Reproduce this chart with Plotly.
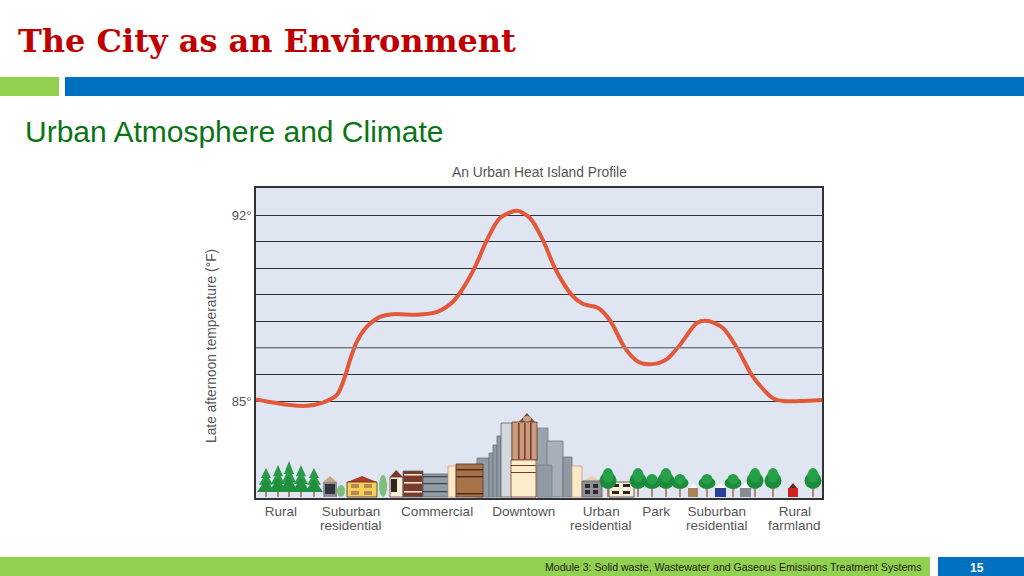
import plotly.graph_objects as go

W = 1024
H = 576

# temperature profile, distance is % of the way across the transect
distance = [0, 6.0, 9.0, 11.8, 14.3, 15.7, 16.6, 17.8, 19.6, 21.9, 24.2, 28.4, 32.0, 34.8,
            36.6, 38.7, 40.8, 43.1, 46.1, 48.4, 50.7, 52.8, 55.8, 57.8, 60.4, 62.5, 65.2,
            67.5, 70.0, 72.6, 74.9, 77.9, 79.9, 82.5, 85.2, 87.8, 91.3, 93.1, 96.1, 100]
temperature = [85.06, 84.85, 84.82, 84.94, 85.23, 85.91, 86.54, 87.23, 87.80, 88.17, 88.27,
               88.25, 88.36, 88.74, 89.25, 90.05, 91.06, 91.89, 92.16, 91.89, 91.06, 90.01,
               88.99, 88.65, 88.51, 88.05, 86.99, 86.48, 86.39, 86.58, 87.11, 87.94, 88.01,
               87.75, 86.92, 85.91, 85.11, 85.0, 85.0, 85.04]

# second lines go in as annotations, plotly's tick line spacing is too loose here
zones = ['Rural', 'Suburban', 'Commercial', 'Downtown', 'Urban', 'Park', 'Suburban', 'Rural']
zones_line2 = ['', 'residential', '', '', 'residential', '', 'residential', 'farmland']
zone_pos = [4.4, 16.8, 32.0, 47.3, 61.0, 70.7, 81.4, 95.2]

temp_ticks = [85, 86, 87, 88, 89, 90, 91, 92]
temp_labels = ['85°', '', '', '', '', '', '', '92°']

fig = go.Figure()

fig.add_trace(go.Scatter(
    x=distance,
    y=temperature,
    mode='lines',
    line=dict(color='#e4583a', width=4, shape='spline', smoothing=0.8),
    showlegend=False,
    hoverinfo='skip'
))

shapes = []


# all the slide furniture and the little skyline is placed in screen pixels
def rect(x0, y0, x1, y1, color, line=None):
    shapes.append(dict(type='rect', xref='paper', yref='paper',
                       x0=x0 / W, x1=x1 / W, y0=1 - y0 / H, y1=1 - y1 / H,
                       fillcolor=color, line=dict(color=line or color, width=0.8 if line else 0)))


def poly(points, color):
    path = 'M ' + ' L '.join('%.4f,%.4f' % (px / W, 1 - py / H) for px, py in points) + ' Z'
    shapes.append(dict(type='path', xref='paper', yref='paper', path=path,
                       fillcolor=color, line=dict(width=0)))


def circle(cx, cy, rx, ry, color):
    shapes.append(dict(type='circle', xref='paper', yref='paper',
                       x0=(cx - rx) / W, x1=(cx + rx) / W, y0=1 - (cy + ry) / H, y1=1 - (cy - ry) / H,
                       fillcolor=color, line=dict(width=0)))


GROUND = 497

# header and footer bars
rect(0, 77, 59, 96, '#92d050')
rect(65, 77, 1024, 96, '#0070c0')
rect(0, 557, 930, 576, '#92d050')
rect(938, 557, 1024, 576, '#0070c0')

# slightly lighter gridline at 87
shapes.append(dict(type='line', xref='paper', yref='y', x0=256 / W, x1=822 / W, y0=87, y1=87,
                   line=dict(color='#8a8f96', width=1.4)))

# pine trees
for cx, top in [(266, 468), (278, 465), (289, 461), (301, 465), (314, 468)]:
    rect(cx - 0.8, 488, cx + 0.8, GROUND, '#9a6a5a')
    h = 492 - top
    poly([(cx, top), (cx + 5, top + h * 0.42), (cx - 5, top + h * 0.42)], '#2a9a46')
    poly([(cx, top + h * 0.22), (cx + 7, top + h * 0.7), (cx - 7, top + h * 0.7)], '#2a9a46')
    poly([(cx, top + h * 0.45), (cx + 9, top + h), (cx - 9, top + h)], '#1f8f3e')

# suburban houses
poly([(323, 482), (330, 476), (337, 482)], '#c9a77e')
rect(323, 482, 337, GROUND, '#8a8f96')
rect(325, 484, 335, 494, '#33343a')
circle(341, 491, 4, 6, '#7cbf7c')
poly([(347, 482), (362, 476), (377, 482)], '#b23a2a')
rect(347, 482, 377, GROUND, '#f5cf55', '#40302a')
for wx, wy in [(351, 484), (364, 484), (351, 491), (364, 491)]:
    rect(wx, wy, wx + 8, wy + 4, '#b58a55')
circle(383, 486, 4, 11, '#7cbf7c')

# commercial
poly([(390, 477), (396, 470), (403, 477)], '#7a3b2e')
rect(390, 477, 403, GROUND, '#fbeed8', '#7a3b2e')
rect(391, 479, 397, 492, '#2e2420')
rect(403, 471, 423, GROUND, '#7a3b2e', '#60626a')
for sy in [474, 482, 491]:
    rect(404, sy, 422, sy + 1.6, '#f6e6d0')
rect(423, 474, 448, GROUND, '#8f9aa5', '#60626a')
for sy in [476, 483, 491]:
    rect(423, sy, 448, sy + 1.2, '#3d434a')

# downtown, back row first
rect(477, 458, 489, GROUND, '#8f9aa5', '#6d747c')
rect(489, 453, 493, GROUND, '#8f9aa5', '#6d747c')
rect(493, 445, 497, GROUND, '#8f9aa5', '#6d747c')
rect(497, 436, 501, GROUND, '#8f9aa5', '#6d747c')
rect(501, 423, 512, GROUND, '#d3d8df', '#5a6068')
rect(537, 428, 548, GROUND, '#98a3ae', '#7b838c')
rect(547, 441, 563, GROUND, '#a7b0ba', '#6d747c')
rect(563, 457, 572, GROUND, '#8f9aa5', '#6d747c')
rect(537, 465, 552, GROUND, '#8f9aa5', '#7b838c')
rect(572, 466, 582, GROUND, '#fbe8c8', '#c7a07a')
rect(448, 466, 456, GROUND, '#fbe8c8', '#c7a07a')
rect(456, 464, 483, GROUND, '#a87248', '#5e2f22')
for sy in [469, 476, 493]:
    rect(456, sy, 483, sy + 1.4, '#4a2a1c')

# main tower
poly([(518, 423), (527, 413), (536, 423)], '#7a4a3a')
circle(527, 419, 4, 3, '#c9a28a')
rect(512, 422, 537, 460, '#c79c7c', '#7a3b2e')
for sx in [518, 524, 530]:
    rect(sx, 423, sx + 1.6, 459, '#7a3b2e')
rect(511, 460, 536, GROUND, '#fdeccb', '#7a3b2e')
for sy in [465, 472]:
    rect(511, sy, 536, sy + 1, '#7a3b2e')

# urban residential
poly([(582, 481), (592, 476), (602, 481)], '#e8cdb0')
rect(582, 481, 602, GROUND, '#8f8f95', '#5a5a60')
for wx, wy in [(585, 484), (593, 484), (585, 490), (593, 490)]:
    rect(wx, wy, wx + 5, wy + 4, '#2c2c34')
rect(609, 482, 634, GROUND, '#fbeed8', '#4a3a30')
for wx, wy in [(612, 484), (623, 484), (612, 491), (623, 491)]:
    rect(wx, wy, wx + 7, wy + 3, '#2c2420')

# round trees, canopy bottoms all sit at the same height
for cx, top in [(608, 468), (638, 468), (652, 474), (666, 468), (680, 474), (707, 474),
                (733, 474), (755, 468), (773, 468), (813, 468)]:
    rect(cx - 0.8, 484, cx + 0.8, GROUND, '#a0705c')
    ry = (489 - top) / 2
    circle(cx, top + ry * 1.2, 8.5, ry * 0.8, '#1c8c3c')
    circle(cx, top + ry * 0.7, 5.5, ry * 0.7, '#26a048')

# small farm houses
for x0, x1, col, roof in [(688, 698, '#a9825a', 'white'), (715, 726, '#2a3f9a', 'white'),
                          (740, 751, '#888c90', 'white'), (788, 798, '#d21f1f', '#5a2a20')]:
    poly([(x0 + 1, 488), ((x0 + x1) / 2, 483), (x1 - 1, 488)], roof)
    rect(x0, 488, x1, GROUND, col)

annotations = [
    dict(text='The City as an Environment', xref='paper', yref='paper', x=16 / W, y=1 - 41 / H,
         xanchor='left', yanchor='middle', showarrow=False,
         font=dict(family='DejaVu Serif', size=32, color='#c00000', weight='bold')),
    dict(text='Urban Atmosphere and Climate', xref='paper', yref='paper', x=23 / W, y=1 - 132 / H,
         xanchor='left', yanchor='middle', showarrow=False,
         font=dict(family='Liberation Sans', size=30, color='#0a7414')),
    dict(text='An Urban Heat Island Profile', xref='paper', yref='paper', x=539 / W, y=1 - 172 / H,
         xanchor='center', yanchor='middle', showarrow=False,
         font=dict(size=13.8, color='#555555')),
    dict(text='Late afternoon temperature (°F)', xref='paper', yref='paper', x=211 / W, y=1 - 346 / H,
         xanchor='center', yanchor='middle', showarrow=False, textangle=-90,
         font=dict(size=13.8, color='#555555')),
    dict(text='Module 3: Solid waste, Wastewater and Gaseous Emissions Treatment Systems',
         xref='paper', yref='paper', x=543 / W, y=1 - 567 / H,
         xanchor='left', yanchor='middle', showarrow=False,
         font=dict(size=10.6, color='#222222')),
    dict(text='15', xref='paper', yref='paper', x=977 / W, y=1 - 568 / H,
         xanchor='center', yanchor='middle', showarrow=False,
         font=dict(size=12, color='white', weight='bold')),
]
for pos, label in zip(zone_pos, zones_line2):
    if label:
        annotations.append(dict(text=label, xref='x', yref='paper', x=pos, y=1 - 525.5 / H,
                                xanchor='center', yanchor='middle', showarrow=False,
                                font=dict(size=13.5, color='#555555')))

fig.update_layout(
    width=W,
    height=H,
    margin=dict(l=0, r=0, t=0, b=0),
    paper_bgcolor='white',
    plot_bgcolor='#dfe5f1',
    showlegend=False,
    shapes=shapes,
    annotations=annotations,
    font=dict(family='Liberation Sans', color='#555555'),
    xaxis=dict(
        domain=[256 / W, 822 / W],
        range=[0, 100],
        tickvals=zone_pos,
        ticktext=zones,
        ticks='',
        tickfont=dict(size=13.5, color='#555555'),
        showgrid=False,
        zeroline=False,
        showline=True,
        mirror=True,
        linecolor='#333333',
        linewidth=2
    ),
    yaxis=dict(
        domain=[1 - 498 / H, 1 - 188 / H],
        range=[81.35, 93.02],
        tickvals=temp_ticks,
        ticktext=temp_labels,
        ticks='',
        tickfont=dict(size=13, color='#555555'),
        gridcolor='#2f3136',
        gridwidth=1.4,
        zeroline=False,
        showline=True,
        mirror=True,
        linecolor='#333333',
        linewidth=2
    )
)

# browser default body margin would push the slide 8px off
fig.write_html("out.html", config=dict(displayModeBar=False),
               post_script="document.body.style.margin='0';")
